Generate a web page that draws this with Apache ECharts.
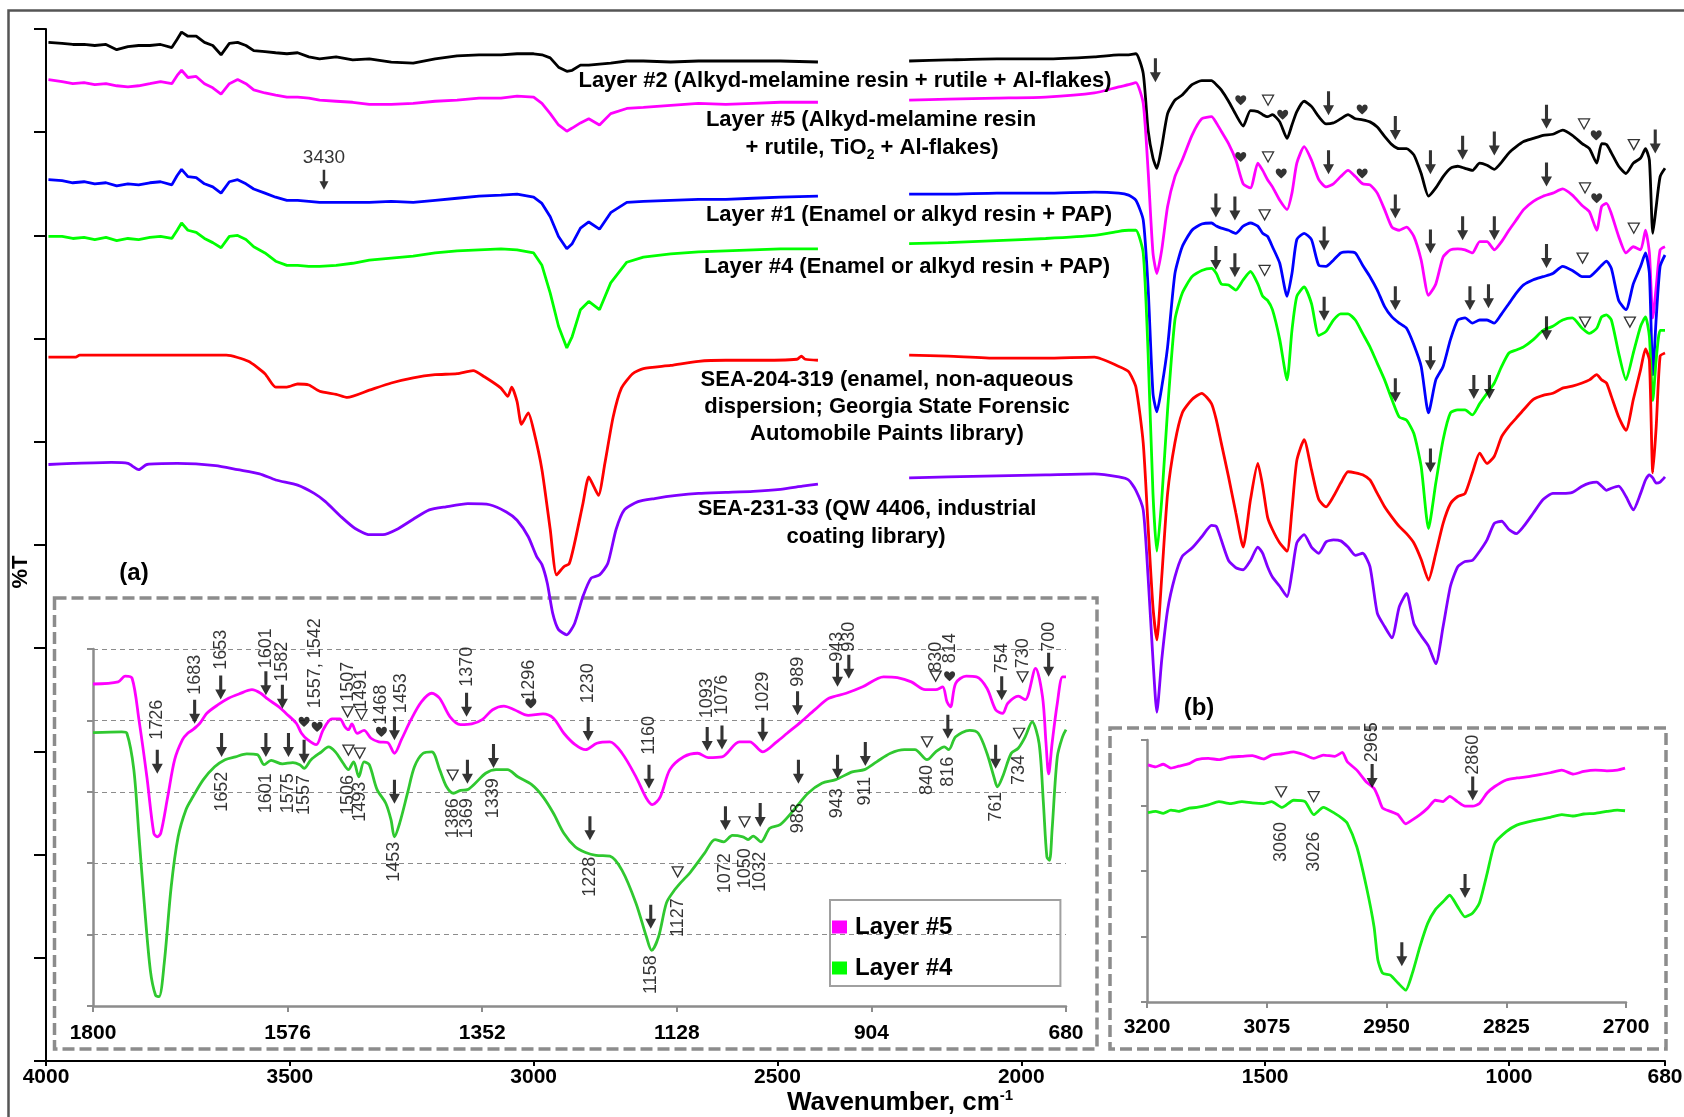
<!DOCTYPE html>
<html>
<head>
<meta charset="utf-8">
<title>ATR-FTIR spectra of automotive paint layers</title>
<script src="https://cdn.jsdelivr.net/npm/echarts@6/dist/echarts.min.js"></script>
<style>
html, body { margin: 0; padding: 0; background: #fff; }
#chart { width: 1684px; height: 1117px; }
</style>
</head>
<body>
<div id="chart"></div>
<script>
const FONT = '"Liberation Sans", Arial, Helvetica, sans-serif';

// Tick values of the survey wavenumber axis (cm-1)
const surveyTicks = [4000, 3500, 3000, 2500, 2000, 1500, 1000, 680];

// ---- Survey spectra, 4000–2417 cm-1 (common sampling grid) ----
const wnHigh = [3995, 3967, 3945, 3922, 3900, 3877, 3855, 3832, 3810, 3787, 3765, 3742, 3731, 3722, 3709, 3692, 3675, 3658, 3641, 3624, 3607, 3590, 3574, 3551, 3529, 3506, 3484, 3461, 3439, 3405, 3371, 3337, 3292, 3247, 3202, 3157, 3112, 3067, 3034, 3000, 2983, 2966, 2949, 2932, 2921, 2904, 2887, 2865, 2842, 2809, 2775, 2719, 2662, 2606, 2550, 2494, 2417];
const layer2High = [98.7, 98.6, 98.5, 98.5, 98.4, 98.5, 98.0, 98.3, 98.4, 98.4, 98.5, 98.2, 99.0, 99.7, 99.3, 99.3, 98.7, 98.4, 97.5, 98.6, 98.7, 98.4, 97.9, 97.8, 97.7, 97.6, 97.7, 97.3, 97.1, 97.3, 97.0, 97.1, 96.8, 96.7, 97.1, 97.4, 97.5, 97.5, 97.6, 97.6, 97.5, 97.2, 96.3, 95.9, 96.0, 96.5, 96.5, 96.6, 96.7, 96.9, 96.9, 96.8, 96.9, 96.9, 96.9, 96.9, 96.8];
const layer5High = [95.1, 94.9, 94.7, 94.8, 94.6, 94.7, 94.5, 94.4, 94.5, 94.7, 94.9, 94.7, 95.5, 96.0, 95.3, 95.4, 94.7, 94.3, 93.7, 94.7, 95.1, 94.7, 94.1, 93.8, 93.6, 93.4, 93.4, 93.3, 93.1, 93.0, 92.9, 92.7, 92.7, 92.8, 93.0, 93.1, 93.3, 93.3, 93.5, 93.4, 92.8, 91.8, 90.7, 90.1, 90.4, 90.9, 91.3, 90.7, 91.8, 92.3, 92.4, 92.6, 92.8, 92.7, 92.8, 92.9, 92.9];
const layer1High = [85.4, 85.3, 85.1, 85.2, 85.0, 85.1, 84.8, 85.0, 84.9, 85.1, 85.2, 84.9, 85.8, 86.4, 85.7, 85.6, 85.0, 84.7, 84.1, 85.2, 85.4, 85.0, 84.5, 84.1, 83.7, 83.4, 83.4, 83.3, 83.2, 83.2, 83.2, 83.2, 83.3, 83.2, 83.4, 83.6, 83.8, 83.9, 84.0, 83.7, 83.1, 81.8, 79.9, 78.7, 79.2, 80.7, 81.3, 80.6, 82.2, 83.2, 83.3, 83.4, 83.5, 83.5, 83.6, 83.7, 83.8];
const layer4High = [79.9, 79.9, 79.7, 79.8, 79.6, 79.8, 79.5, 79.7, 79.6, 79.8, 79.9, 79.7, 80.5, 81.2, 80.5, 80.3, 79.7, 79.3, 78.8, 79.9, 80.0, 79.6, 78.9, 78.3, 77.5, 77.1, 77.1, 77.0, 77.0, 77.1, 77.3, 77.6, 77.8, 78.0, 78.3, 78.5, 78.6, 78.7, 78.6, 78.3, 77.1, 74.4, 71.2, 69.1, 70.2, 72.8, 73.6, 72.8, 75.4, 77.4, 77.9, 78.2, 78.4, 78.5, 78.6, 78.7, 78.7];
// library reference spectra, [wavenumber, %T]
const sea204High = [[3995, 68.2], [3939, 68.2], [3931, 68.4], [3630, 68.4], [3585, 67.8], [3551, 66.6], [3529, 65.3], [3506, 65.3], [3484, 65.6], [3461, 65.5], [3439, 64.9], [3405, 64.6], [3382, 64.3], [3337, 65.0], [3292, 65.7], [3247, 66.2], [3202, 66.5], [3157, 66.6], [3124, 66.9], [3101, 66.3], [3067, 65.2], [3053, 64.4], [3045, 65.3], [3034, 63.9], [3025, 61.7], [3011, 62.8], [3000, 61.1], [2983, 57.3], [2966, 51.5], [2953, 47.1], [2938, 47.9], [2927, 48.2], [2916, 50.2], [2899, 54.0], [2887, 56.6], [2876, 55.6], [2867, 54.8], [2854, 57.9], [2837, 62.4], [2820, 65.2], [2797, 66.6], [2775, 67.1], [2719, 67.4], [2662, 67.8], [2606, 67.9], [2550, 67.9], [2460, 68.0], [2451, 68.3], [2443, 68.0], [2417, 67.9]];
const sea231High = [[3995, 57.8], [3945, 57.9], [3866, 58.0], [3832, 57.9], [3810, 57.3], [3793, 57.8], [3731, 57.9], [3652, 57.7], [3607, 57.3], [3562, 56.9], [3529, 56.3], [3484, 55.8], [3450, 55.0], [3427, 54.2], [3394, 52.7], [3366, 51.6], [3337, 51.0], [3309, 51.0], [3281, 51.5], [3247, 52.5], [3214, 53.4], [3180, 53.7], [3135, 54.0], [3090, 53.9], [3056, 53.2], [3034, 52.4], [3011, 50.8], [2994, 48.9], [2983, 48.1], [2972, 46.3], [2961, 43.4], [2949, 41.8], [2932, 41.3], [2916, 42.4], [2899, 45.0], [2882, 46.8], [2865, 47.1], [2848, 48.2], [2831, 51.5], [2814, 53.4], [2786, 54.2], [2752, 54.5], [2707, 54.8], [2662, 55.0], [2606, 55.1], [2550, 55.2], [2494, 55.4], [2449, 55.7], [2417, 55.9]];

// ---- Survey spectra, 2230–680 cm-1 (common sampling grid) ----
const wnLow = [2230, 2150, 2050, 1950, 1850, 1800, 1780, 1765, 1750, 1740, 1730, 1722, 1712, 1700, 1685, 1670, 1650, 1630, 1610, 1600, 1590, 1575, 1560, 1545, 1530, 1515, 1505, 1495, 1485, 1470, 1455, 1445, 1435, 1420, 1405, 1390, 1375, 1360, 1345, 1330, 1315, 1300, 1285, 1270, 1255, 1240, 1225, 1210, 1195, 1180, 1165, 1150, 1135, 1120, 1105, 1090, 1075, 1060, 1045, 1030, 1015, 1000, 985, 970, 950, 930, 910, 890, 870, 850, 835, 820, 810, 800, 790, 775, 760, 745, 730, 720, 712, 705, 698, 690, 680];
const layer2Low = [96.9, 97.0, 97.1, 97.1, 97.3, 97.5, 97.5, 97.6, 95.7, 90.2, 87.5, 86.5, 88.6, 91.8, 93.1, 93.6, 94.6, 95.0, 95.0, 94.6, 94.1, 93.0, 91.7, 90.6, 92.1, 92.0, 91.7, 91.5, 91.7, 91.0, 89.4, 90.7, 92.0, 93.0, 92.5, 91.5, 90.8, 90.9, 91.3, 91.7, 91.3, 91.2, 91.0, 90.5, 89.6, 88.8, 88.4, 88.4, 87.8, 86.0, 83.8, 84.6, 85.7, 86.5, 86.7, 86.5, 86.3, 87.0, 86.8, 86.4, 87.1, 88.0, 88.6, 89.1, 89.4, 89.7, 89.8, 90.2, 89.7, 88.9, 88.4, 87.0, 88.9, 88.8, 88.0, 86.7, 86.0, 87.0, 87.5, 88.4, 87.3, 80.2, 82.8, 85.7, 86.5];
const layer5Low = [93.1, 93.2, 93.3, 93.4, 93.8, 94.4, 94.6, 94.8, 92.8, 86.3, 78.3, 76.3, 78.6, 82.8, 85.7, 87.3, 89.7, 91.3, 91.5, 90.9, 90.1, 88.9, 87.3, 85.0, 84.6, 87.0, 86.3, 85.4, 84.7, 83.4, 82.5, 84.1, 87.0, 88.6, 87.3, 85.4, 84.7, 85.0, 85.7, 86.3, 85.7, 85.0, 84.9, 84.1, 82.5, 80.8, 80.5, 80.8, 79.9, 77.6, 74.2, 75.3, 77.9, 78.6, 78.7, 78.6, 78.3, 79.4, 79.4, 78.6, 79.4, 80.5, 81.5, 82.5, 83.3, 83.8, 84.1, 84.5, 83.9, 82.9, 82.3, 80.5, 82.8, 83.1, 82.1, 79.9, 78.3, 78.9, 78.6, 80.5, 78.3, 72.0, 75.0, 78.6, 78.9];
const layer1Low = [84.0, 84.0, 84.1, 84.1, 84.2, 84.1, 83.9, 83.4, 81.5, 75.0, 64.7, 62.9, 65.3, 69.2, 76.3, 78.9, 80.5, 81.1, 81.2, 80.9, 80.7, 80.5, 80.2, 80.9, 81.2, 80.9, 80.2, 79.9, 78.9, 77.3, 74.1, 76.3, 79.6, 80.2, 79.6, 77.1, 77.0, 77.6, 78.3, 78.4, 78.3, 77.1, 76.0, 74.7, 73.1, 72.1, 71.5, 71.0, 69.4, 67.3, 62.8, 66.0, 67.3, 69.9, 71.8, 72.0, 71.5, 71.8, 71.8, 71.5, 72.4, 73.4, 74.4, 75.2, 75.7, 76.0, 76.3, 77.0, 76.6, 76.0, 76.0, 76.6, 77.1, 77.5, 76.8, 73.7, 72.8, 75.3, 77.0, 78.3, 76.3, 66.5, 72.0, 77.0, 78.1];
const layer4Low = [79.2, 79.3, 79.5, 79.7, 80.0, 80.4, 80.5, 80.5, 78.3, 68.6, 55.0, 49.4, 54.4, 63.1, 71.8, 74.4, 76.0, 76.6, 76.8, 76.3, 75.3, 75.2, 74.7, 75.7, 76.5, 75.3, 74.1, 73.7, 72.8, 69.9, 66.0, 70.8, 74.1, 75.0, 73.4, 70.3, 70.7, 71.8, 72.4, 72.4, 71.8, 70.5, 69.2, 67.6, 66.0, 64.1, 62.4, 62.1, 60.8, 57.6, 51.6, 56.0, 60.2, 62.8, 63.1, 63.1, 62.6, 63.7, 64.7, 65.7, 67.3, 68.6, 68.9, 69.2, 69.9, 70.8, 71.2, 71.8, 72.0, 71.0, 70.5, 71.0, 72.1, 72.3, 71.8, 68.6, 66.0, 68.6, 71.2, 72.1, 70.2, 64.0, 68.0, 70.8, 70.8];
const sea204Low = [68.4, 68.3, 68.1, 68.1, 68.2, 67.3, 66.8, 65.3, 59.9, 51.8, 44.0, 40.8, 46.9, 55.0, 59.9, 62.8, 64.1, 64.7, 63.7, 62.1, 59.9, 56.6, 53.1, 49.8, 54.4, 57.9, 55.7, 52.7, 51.5, 50.2, 49.4, 53.4, 58.2, 60.2, 57.3, 54.4, 53.7, 54.7, 56.0, 57.1, 57.0, 56.8, 56.3, 55.0, 53.7, 52.7, 51.8, 51.1, 50.2, 48.6, 46.6, 49.2, 52.1, 54.0, 54.7, 55.0, 57.0, 58.9, 57.9, 58.6, 60.5, 61.5, 62.3, 63.1, 64.1, 64.5, 64.7, 65.2, 65.4, 65.7, 66.0, 66.5, 66.0, 65.7, 64.4, 62.4, 61.1, 64.1, 67.0, 69.0, 67.9, 57.0, 61.5, 68.3, 68.6];
const sea231Low = [56.5, 56.6, 56.7, 56.8, 56.9, 56.6, 56.3, 55.3, 53.4, 46.9, 38.9, 33.8, 38.9, 43.7, 46.9, 48.9, 49.7, 50.8, 51.9, 51.8, 50.5, 48.5, 47.8, 47.6, 48.5, 49.8, 49.2, 47.9, 46.9, 46.0, 45.0, 47.3, 50.2, 51.0, 49.8, 49.2, 50.3, 50.5, 50.4, 49.8, 49.0, 49.2, 47.9, 43.4, 42.1, 41.0, 44.0, 45.3, 42.4, 41.2, 40.2, 38.5, 42.1, 46.0, 47.9, 48.4, 48.5, 49.4, 50.5, 52.1, 52.3, 51.5, 51.1, 51.8, 53.1, 54.4, 55.0, 55.0, 55.1, 55.7, 56.0, 56.1, 55.7, 55.3, 55.5, 55.7, 54.7, 53.4, 55.0, 56.3, 56.8, 56.5, 56.0, 56.1, 56.6];

// ---- Inset (a): Layer #5 and Layer #4, 1800–680 cm-1, [wavenumber, %T (arb.)] ----
const insetA5 = [[1800, 4.51], [1771, 4.54], [1763, 4.62], [1755, 4.59], [1747, 4.00], [1738, 3.21], [1730, 2.42], [1726, 2.37], [1722, 2.42], [1714, 2.93], [1706, 3.45], [1697, 3.73], [1691, 3.82], [1685, 3.87], [1677, 3.96], [1669, 4.10], [1656, 4.22], [1644, 4.31], [1632, 4.37], [1617, 4.43], [1607, 4.38], [1599, 4.30], [1586, 4.19], [1578, 4.10], [1566, 3.96], [1560, 3.82], [1553, 3.73], [1543, 3.66], [1535, 3.87], [1525, 4.02], [1516, 4.02], [1510, 3.91], [1506, 3.87], [1502, 3.95], [1496, 3.82], [1488, 3.86], [1480, 3.75], [1471, 3.70], [1461, 3.69], [1453, 3.54], [1445, 3.73], [1434, 4.01], [1422, 4.26], [1410, 4.38], [1401, 4.31], [1389, 4.05], [1377, 3.94], [1364, 3.95], [1352, 4.01], [1340, 4.15], [1327, 4.20], [1315, 4.15], [1299, 4.07], [1282, 4.09], [1270, 4.03], [1258, 3.82], [1245, 3.66], [1233, 3.59], [1220, 3.68], [1205, 3.70], [1191, 3.54], [1175, 3.21], [1163, 2.91], [1156, 2.82], [1147, 2.93], [1136, 3.31], [1120, 3.49], [1104, 3.54], [1092, 3.48], [1076, 3.49], [1056, 3.70], [1044, 3.70], [1029, 3.56], [1013, 3.70], [1001, 3.82], [985, 3.98], [969, 4.15], [953, 4.31], [933, 4.38], [914, 4.47], [890, 4.61], [874, 4.60], [858, 4.54], [842, 4.43], [830, 4.43], [822, 4.47], [817, 4.26], [813, 4.19], [807, 4.52], [795, 4.62], [783, 4.61], [771, 4.45], [761, 4.15], [753, 4.10], [747, 4.24], [735, 4.34], [727, 4.29], [715, 4.73], [707, 4.33], [703, 3.68], [700, 3.25], [696, 3.68], [690, 4.24], [684, 4.61], [680, 4.61]];
const insetA4 = [[1800, 3.83], [1767, 3.84], [1761, 3.82], [1753, 3.31], [1747, 2.37], [1741, 1.44], [1734, 0.50], [1728, 0.15], [1724, 0.13], [1718, 0.60], [1710, 1.67], [1702, 2.37], [1693, 2.75], [1685, 2.93], [1673, 3.17], [1660, 3.35], [1648, 3.45], [1636, 3.49], [1623, 3.53], [1611, 3.52], [1603, 3.38], [1595, 3.44], [1582, 3.39], [1570, 3.41], [1562, 3.38], [1557, 3.33], [1549, 3.45], [1537, 3.56], [1529, 3.63], [1521, 3.56], [1512, 3.40], [1506, 3.31], [1500, 3.42], [1494, 3.21], [1488, 3.42], [1482, 3.38], [1473, 3.03], [1463, 2.84], [1457, 2.61], [1453, 2.37], [1447, 2.56], [1438, 2.98], [1430, 3.35], [1420, 3.54], [1410, 3.56], [1401, 3.31], [1393, 3.07], [1385, 2.98], [1377, 3.02], [1369, 3.03], [1360, 3.12], [1348, 3.26], [1336, 3.31], [1323, 3.31], [1311, 3.21], [1295, 3.10], [1282, 2.93], [1270, 2.70], [1258, 2.42], [1245, 2.23], [1233, 2.15], [1221, 2.11], [1205, 2.10], [1191, 1.90], [1175, 1.44], [1163, 0.97], [1157, 0.78], [1149, 0.97], [1140, 1.44], [1132, 1.60], [1124, 1.72], [1112, 1.88], [1096, 2.14], [1084, 2.33], [1074, 2.30], [1064, 2.39], [1052, 2.37], [1046, 2.33], [1040, 2.38], [1031, 2.30], [1021, 2.49], [1009, 2.54], [993, 2.75], [977, 2.98], [961, 3.12], [945, 3.17], [926, 3.28], [912, 3.31], [898, 3.42], [882, 3.54], [866, 3.59], [854, 3.59], [840, 3.45], [830, 3.56], [820, 3.63], [815, 3.59], [807, 3.77], [791, 3.86], [781, 3.82], [771, 3.54], [763, 3.21], [759, 3.07], [753, 3.21], [743, 3.54], [735, 3.61], [727, 3.77], [719, 3.98], [711, 3.68], [706, 2.84], [702, 2.09], [699, 2.04], [696, 2.47], [690, 3.49], [684, 3.77], [680, 3.87]];

// ---- Inset (b): Layer #5 and Layer #4, 3200–2700 cm-1 ----
const wnInsetB = [3199, 3191, 3183, 3175, 3167, 3156, 3148, 3136, 3125, 3113, 3101, 3090, 3078, 3070, 3059, 3047, 3035, 3026, 3016, 3004, 2996, 2991, 2981, 2971, 2963, 2959, 2954, 2946, 2938, 2930, 2923, 2915, 2907, 2899, 2891, 2884, 2876, 2868, 2860, 2853, 2845, 2837, 2825, 2814, 2802, 2790, 2779, 2767, 2755, 2744, 2732, 2720, 2709, 2701];
const insetB5 = [3.62, 3.59, 3.63, 3.57, 3.60, 3.64, 3.70, 3.72, 3.70, 3.74, 3.75, 3.76, 3.71, 3.77, 3.79, 3.82, 3.77, 3.72, 3.77, 3.75, 3.81, 3.67, 3.54, 3.36, 3.26, 3.14, 2.96, 2.91, 2.86, 2.72, 2.78, 2.86, 2.96, 3.08, 3.06, 3.14, 3.06, 2.99, 2.99, 3.03, 3.19, 3.29, 3.39, 3.42, 3.44, 3.47, 3.50, 3.54, 3.48, 3.52, 3.54, 3.53, 3.54, 3.57];
const insetB4 = [2.89, 2.91, 2.88, 2.93, 2.91, 2.96, 2.97, 3.01, 3.06, 3.03, 3.06, 3.04, 3.03, 3.06, 2.97, 3.08, 3.06, 2.86, 2.97, 2.88, 2.80, 2.73, 2.37, 1.76, 1.15, 0.64, 0.44, 0.41, 0.29, 0.18, 0.44, 0.85, 1.20, 1.41, 1.53, 1.63, 1.46, 1.30, 1.36, 1.51, 1.96, 2.42, 2.60, 2.70, 2.75, 2.79, 2.82, 2.86, 2.84, 2.87, 2.88, 2.91, 2.93, 2.92];

// ---- Band marks on the survey spectra: [wavenumber, %T, kind] ----
const surveyMarks = [
  // Layer #2
  [1725, 96.0, 'arrow'], [1550, 93.1, 'heart'], [1494, 93.1, 'tri'], [1464, 91.7, 'heart'], [1370, 92.8, 'arrow'], [1301, 92.2, 'heart'], [1233, 90.4, 'arrow'], [1161, 87.1, 'arrow'], [1095, 88.5, 'arrow'], [1030, 88.9, 'arrow'], [923, 91.5, 'arrow'], [846, 90.8, 'tri'], [821, 89.7, 'heart'], [744, 88.8, 'tri'], [700, 89.1, 'arrow'],
  // Layer #5
  [1550, 87.6, 'heart'], [1494, 87.6, 'tri'], [1467, 86.0, 'heart'], [1370, 87.1, 'arrow'], [1301, 86.0, 'heart'], [1233, 82.8, 'arrow'], [1161, 79.4, 'arrow'], [1095, 80.7, 'arrow'], [1030, 80.7, 'arrow'], [923, 85.9, 'arrow'], [844, 84.6, 'tri'], [820, 83.6, 'heart'], [744, 80.7, 'tri'],
  // Layer #1
  [1601, 82.9, 'arrow'], [1562, 82.6, 'arrow'], [1501, 82.0, 'tri'], [1379, 79.7, 'arrow'], [1233, 73.9, 'arrow'], [1161, 68.1, 'arrow'], [1080, 73.9, 'arrow'], [1042, 74.1, 'arrow'], [923, 78.0, 'arrow'], [849, 77.8, 'tri'],
  // Layer #4
  [1601, 77.8, 'arrow'], [1562, 77.1, 'arrow'], [1501, 76.6, 'tri'], [1379, 72.9, 'arrow'], [1233, 65.0, 'arrow'], [1161, 58.2, 'arrow'], [1072, 65.3, 'arrow'], [1040, 65.3, 'arrow'], [923, 71.0, 'arrow'], [844, 71.6, 'tri'], [752, 71.6, 'tri']
];
// O–H band of Layer #1: [wavenumber, %T, label]
const ohBand = [[3430, 85.4, '3430']];

// ---- Band marks and labels in inset (a) ----
// marks: [wavenumber, height, kind]; labels: [wavenumber, height where the text starts/ends, text]
const marksA5 = [[1726, 3.42, 'arrow'], [1683, 4.12, 'arrow'], [1653, 4.46, 'arrow'], [1601, 4.52, 'arrow'], [1582, 4.33, 'arrow'], [1557, 3.98, 'heart'], [1542, 3.91, 'heart'], [1507, 4.12, 'tri'], [1491, 4.08, 'tri'], [1468, 3.84, 'heart'], [1453, 3.89, 'arrow'], [1370, 4.22, 'arrow'], [1296, 4.24, 'heart'], [1230, 3.88, 'arrow'], [1160, 3.21, 'arrow'], [1093, 3.74, 'arrow'], [1076, 3.76, 'arrow'], [1029, 3.87, 'arrow'], [989, 4.24, 'arrow'], [943, 4.64, 'arrow'], [930, 4.75, 'arrow'], [830, 4.62, 'tri'], [814, 4.62, 'heart'], [754, 4.45, 'arrow'], [730, 4.61, 'tri'], [700, 4.78, 'arrow']];
const labelsA5 = [[1726, 3.73, '1726'], [1683, 4.36, '1683'], [1653, 4.71, '1653'], [1601, 4.73, '1601'], [1582, 4.54, '1582'], [1545, 4.17, '1557, 1542'], [1507, 4.26, '1507'], [1491, 4.15, '1491'], [1468, 3.94, '1468'], [1445, 4.10, '1453'], [1370, 4.47, '1370'], [1298, 4.29, '1296'], [1230, 4.24, '1230'], [1160, 3.52, '1160'], [1093, 4.03, '1093'], [1076, 4.08, '1076'], [1029, 4.12, '1029'], [989, 4.47, '989'], [943, 4.82, '943'], [930, 4.96, '930'], [830, 4.68, '830'], [814, 4.80, '814'], [754, 4.66, '754'], [730, 4.73, '730'], [700, 4.96, '700']];
const marksA4 = [[1652, 3.655, 'arrow'], [1601, 3.655, 'arrow'], [1575, 3.655, 'arrow'], [1557, 3.56, 'arrow'], [1506, 3.585, 'tri'], [1493, 3.54, 'tri'], [1453, 3.0, 'arrow'], [1386, 3.235, 'tri'], [1369, 3.28, 'arrow'], [1339, 3.50, 'arrow'], [1228, 2.49, 'arrow'], [1158, 1.25, 'arrow'], [1127, 1.88, 'tri'], [1072, 2.63, 'arrow'], [1050, 2.58, 'tri'], [1032, 2.675, 'arrow'], [988, 3.28, 'arrow'], [943, 3.35, 'arrow'], [911, 3.53, 'arrow'], [840, 3.70, 'tri'], [816, 3.91, 'arrow'], [761, 3.49, 'arrow'], [734, 3.82, 'tri']];
const labelsA4 = [[1652, 3.28, '1652'], [1601, 3.26, '1601'], [1575, 3.26, '1575'], [1557, 3.235, '1557'], [1506, 3.235, '1506'], [1493, 3.14, '1493'], [1453, 2.30, '1453'], [1386, 2.91, '1386'], [1369, 2.91, '1369'], [1339, 3.19, '1339'], [1228, 2.09, '1228'], [1158, 0.71, '1158'], [1127, 1.51, '1127'], [1072, 2.14, '1072'], [1050, 2.21, '1050'], [1032, 2.16, '1032'], [988, 2.84, '988'], [943, 3.05, '943'], [911, 3.21, '911'], [840, 3.375, '840'], [816, 3.49, '816'], [761, 3.00, '761'], [734, 3.515, '734']];

// ---- Band marks and labels in inset (b) ----
const marksB5 = [[2965, 3.45, 'arrow'], [2860, 3.26, 'arrow']];
const labelsB5 = [[2965, 3.66, '2965'], [2860, 3.47, '2860']];
const marksB4 = [[3060, 3.21, 'tri'], [3026, 3.135, 'tri'], [2934, 0.73, 'arrow'], [2868, 1.77, 'arrow']];
const labelsB4 = [[3060, 2.75, '3060'], [3026, 2.60, '3026']];

// ---------------------------------------------------------------
const zip = (xs, ys) => xs.map((x, i) => [x, ys[i]]);

const SYMBOLS = {
  arrow: 'path://M3.6,0 L6.4,0 L6.4,14 L10,14 L5,24 L0,14 L3.6,14 Z',
  heart: 'path://M5,9 C5,9 0,5.6 0,2.8 C0,1 1.2,0 2.5,0 C3.6,0 4.5,0.7 5,1.7 C5.5,0.7 6.4,0 7.5,0 C8.8,0 10,1 10,2.8 C10,5.6 5,9 5,9 Z',
  tri: 'path://M0,0 L10,0 L5,9 Z'
};
const SIZES = { arrow: [11, 24], heart: [11, 10], tri: [11, 10] };

function spectrum(name, color, data, axis, smooth, width) {
  return {
    type: 'line', name, data, xAxisIndex: axis, yAxisIndex: axis,
    symbol: 'none', showSymbol: false, smooth: smooth || false,
    lineStyle: { color, width: width || 2.8 }, itemStyle: { color },
    silent: true, z: axis === 0 ? 2 : 3, emphasis: { disabled: true }
  };
}

function markSeries(list, kind, axis) {
  return {
    type: 'scatter', xAxisIndex: axis, yAxisIndex: axis,
    data: list.filter(m => m[2] === kind).map(m => [m[0], m[1]]),
    symbol: SYMBOLS[kind], symbolSize: SIZES[kind],
    itemStyle: kind === 'tri'
      ? { color: '#ffffff', borderColor: '#000', borderWidth: 1.3 }
      : { color: '#000' },
    silent: true, z: 6, emphasis: { disabled: true }
  };
}

function labelSeries(list, axis, rising) {
  return {
    type: 'scatter', xAxisIndex: axis, yAxisIndex: axis,
    data: list.map(l => ({ value: [l[0], l[1]], name: l[2] })),
    symbol: 'circle', symbolSize: 1, itemStyle: { color: 'rgba(0,0,0,0)' },
    label: {
      show: true, position: 'inside', rotate: 90,
      align: rising ? 'left' : 'right', verticalAlign: 'middle',
      formatter: '{b}', fontFamily: FONT, fontSize: 18, color: '#000'
    },
    silent: true, z: 7, emphasis: { disabled: true }
  };
}

function allMarks(list, axis) {
  return ['arrow', 'heart', 'tri'].map(k => markSeries(list, k, axis))
    .filter(s => s.data.length);
}

function text(x, y, str, size, extra) {
  return Object.assign({
    type: 'text', x, y, silent: true, z: 5,
    style: {
      text: str, font: 'bold ' + size + 'px ' + FONT, fill: '#000',
      align: 'center', verticalAlign: 'middle',
      textAlign: 'center', textVerticalAlign: 'middle'
    }
  }, extra || {});
}

const plainNumber = v => String(v);
const grayAxis = { color: '#8c8c8c', width: 2.5 };
const tickFont = { fontFamily: FONT, fontSize: 21, fontWeight: 'bold', color: '#000', formatter: plainNumber };

const C = {
  black: '#000000', pink: '#ff00ff', blue: '#0000ff', green: '#00ff00',
  red: '#ff0000', violet: '#8000ff', insetGreen: '#30c830', insetBGreen: '#14ee14'
};

const NAME2 = 'Layer #2 (Alkyd-melamine resin + rutile + Al-flakes)';
const NAME5 = 'Layer #5 (Alkyd-melamine resin + rutile, TiO2 + Al-flakes)';
const NAME1 = 'Layer #1 (Enamel or alkyd resin + PAP)';
const NAME4 = 'Layer #4 (Enamel or alkyd resin + PAP)';
const NAME204 = 'SEA-204-319';
const NAME231 = 'SEA-231-33';

const series = [
  spectrum(NAME2, C.black, zip(wnHigh, layer2High), 0),
  spectrum(NAME5, C.pink, zip(wnHigh, layer5High), 0),
  spectrum(NAME1, C.blue, zip(wnHigh, layer1High), 0),
  spectrum(NAME4, C.green, zip(wnHigh, layer4High), 0),
  spectrum(NAME204, C.red, sea204High, 0, 0.2),
  spectrum(NAME231, C.violet, sea231High, 0, 0.2),
  spectrum(NAME2, C.black, zip(wnLow, layer2Low), 0, 0.2),
  spectrum(NAME5, C.pink, zip(wnLow, layer5Low), 0, 0.2),
  spectrum(NAME1, C.blue, zip(wnLow, layer1Low), 0, 0.2),
  spectrum(NAME4, C.green, zip(wnLow, layer4Low), 0, 0.2),
  spectrum(NAME204, C.red, zip(wnLow, sea204Low), 0, 0.2),
  spectrum(NAME231, C.violet, zip(wnLow, sea231Low), 0, 0.2),
  spectrum('Layer #5', C.pink, insetA5, 1, 0.3),
  spectrum('Layer #4', C.insetGreen, insetA4, 1, 0.3),
  spectrum('Layer #5 C–H', C.pink, zip(wnInsetB, insetB5), 2, 0.2),
  spectrum('Layer #4 C–H', C.insetBGreen, zip(wnInsetB, insetB4), 2, 0.2),
  ...allMarks(surveyMarks, 0),
  {
    type: 'scatter', xAxisIndex: 0, yAxisIndex: 0,
    data: ohBand.map(b => ({ value: [b[0], b[1]], name: b[2] })),
    symbol: SYMBOLS.arrow, symbolSize: [9, 20], itemStyle: { color: '#000' },
    label: { show: true, position: 'top', distance: 2, formatter: '{b}', fontFamily: FONT, fontSize: 19, color: '#000' },
    silent: true, z: 6
  },
  ...allMarks(marksA5, 1), ...allMarks(marksA4, 1),
  labelSeries(labelsA5, 1, true), labelSeries(labelsA4, 1, false),
  ...allMarks(marksB5, 2), ...allMarks(marksB4, 2),
  labelSeries(labelsB5, 2, true), labelSeries(labelsB4, 2, false)
];

const option = {
  animation: false,
  backgroundColor: '#ffffff',
  grid: [
    { left: 46, top: 29, width: 1619, height: 1032, containLabel: false, outerBoundsMode: 'none' },
    { left: 93, top: 649, width: 973, height: 357, containLabel: false, outerBoundsMode: 'none' },
    { left: 1147, top: 740, width: 479, height: 262, containLabel: false, outerBoundsMode: 'none' }
  ],
  xAxis: [
    {
      gridIndex: 0, type: 'value', min: 680, max: 4000, inverse: true,
      axisLine: { show: true, onZero: false, lineStyle: { color: '#000', width: 2 } },
      axisTick: { show: true, length: 5, customValues: surveyTicks, lineStyle: { color: '#000', width: 2 } },
      axisLabel: Object.assign({ show: true, margin: 6, customValues: surveyTicks }, tickFont),
      splitLine: { show: false }
    },
    {
      gridIndex: 1, type: 'value', min: 680, max: 1800, interval: 224, inverse: true,
      axisLine: { show: true, onZero: false, lineStyle: grayAxis },
      axisTick: { show: true, length: 6, lineStyle: { color: '#8c8c8c', width: 2 } },
      axisLabel: Object.assign({ show: true, margin: 17, showMinLabel: true, showMaxLabel: true }, tickFont),
      splitLine: { show: false }
    },
    {
      gridIndex: 2, type: 'value', min: 2700, max: 3200, interval: 125, inverse: true,
      axisLine: { show: true, onZero: false, lineStyle: grayAxis },
      axisTick: { show: true, length: 6, lineStyle: { color: '#8c8c8c', width: 2 } },
      axisLabel: Object.assign({ show: true, margin: 15, showMinLabel: true, showMaxLabel: true }, tickFont),
      splitLine: { show: false }
    }
  ],
  yAxis: [
    {
      gridIndex: 0, type: 'value', min: 0, max: 100, interval: 10,
      axisLine: { show: true, onZero: false, lineStyle: { color: '#000', width: 2 } },
      axisTick: { show: true, length: 12, lineStyle: { color: '#000', width: 2 } },
      axisLabel: { show: false }, splitLine: { show: false }
    },
    {
      gridIndex: 1, type: 'value', min: 0, max: 5, interval: 1,
      axisLine: { show: true, onZero: false, lineStyle: grayAxis },
      axisTick: { show: true, length: 6, lineStyle: { color: '#8c8c8c', width: 2 } },
      axisLabel: { show: false },
      splitLine: { show: true, lineStyle: { color: '#8c8c8c', width: 1.2, type: [5, 4] } }
    },
    {
      gridIndex: 2, type: 'value', min: 0, max: 4, interval: 1,
      axisLine: { show: true, onZero: false, lineStyle: grayAxis },
      axisTick: { show: true, length: 6, lineStyle: { color: '#8c8c8c', width: 2 } },
      axisLabel: { show: false }, splitLine: { show: false }
    }
  ],
  legend: {
    show: true, orient: 'vertical', left: 830, top: 900, z: 10,
    data: [
      { name: 'Layer #5', itemStyle: { color: '#ff00ff' } },
      { name: 'Layer #4', itemStyle: { color: '#00ff00' } }
    ],
    icon: 'rect', itemWidth: 15, itemHeight: 13, itemGap: 17,
    textStyle: { fontFamily: FONT, fontSize: 24, fontWeight: 'bold', color: '#000', padding: [0, 0, 0, 3] },
    padding: [15, 108, 6, 2], borderColor: '#a0a0a0', borderWidth: 2,
    backgroundColor: 'rgba(255,255,255,0)', selectedMode: false
  },
  graphic: [
    // chart-area frame and the two dashed inset frames
    { type: 'rect', silent: true, z: 0, shape: { x: 8.5, y: 10.5, width: 1700, height: 1200 }, style: { fill: 'none', stroke: '#555', lineWidth: 2.5 } },
    { type: 'rect', silent: true, z: 0, shape: { x: 54.5, y: 598, width: 1042.5, height: 451 }, style: { fill: 'none', stroke: '#8c8c8c', lineWidth: 3.5, lineDash: [12, 5] } },
    { type: 'rect', silent: true, z: 0, shape: { x: 1110, y: 728, width: 556, height: 321 }, style: { fill: 'none', stroke: '#8c8c8c', lineWidth: 3.5, lineDash: [12, 5] } },
    // axis titles
    text(21, 572, '%T', 22, { rotation: Math.PI / 2 }),
    {
      type: 'text', x: 900, y: 1103, silent: true, z: 5,
      style: {
        text: '{a|Wavenumber, cm}{b|-1}', align: 'center', verticalAlign: 'middle',
        textAlign: 'center', textVerticalAlign: 'middle', fill: '#000',
        rich: {
          a: { fontFamily: FONT, fontSize: 26, fontWeight: 'bold', fill: '#000', color: '#000', lineHeight: 30 },
          b: { fontFamily: FONT, fontSize: 15, fontWeight: 'bold', fill: '#000', color: '#000', lineHeight: 30, verticalAlign: 'top' }
        }
      }
    },
    // spectrum captions
    text(845, 81, 'Layer #2 (Alkyd-melamine resin + rutile + Al-flakes)', 22),
    text(871, 120, 'Layer #5 (Alkyd-melamine resin', 22),
    {
      type: 'text', x: 872, y: 148, silent: true, z: 5,
      style: {
        text: '{t|+ rutile, TiO}{s|2}{t| + Al-flakes)}', align: 'center', verticalAlign: 'middle',
        textAlign: 'center', textVerticalAlign: 'middle', fill: '#000',
        rich: {
          t: { fontFamily: FONT, fontSize: 22, fontWeight: 'bold', fill: '#000', color: '#000', lineHeight: 28 },
          s: { fontFamily: FONT, fontSize: 14, fontWeight: 'bold', fill: '#000', color: '#000', lineHeight: 28, verticalAlign: 'bottom' }
        }
      }
    },
    text(909, 215, 'Layer #1 (Enamel or alkyd resin + PAP)', 22),
    text(907, 267, 'Layer #4 (Enamel or alkyd resin + PAP)', 22),
    text(887, 380, 'SEA-204-319 (enamel, non-aqueous', 22),
    text(887, 407, 'dispersion; Georgia State Forensic', 22),
    text(887, 434, 'Automobile Paints library)', 22),
    text(867, 509, 'SEA-231-33 (QW 4406, industrial', 22),
    text(866, 537, 'coating library)', 22),
    // inset tags
    text(134, 573, '(a)', 24),
    text(1199, 708, '(b)', 24)
  ],
  series
};

const chart = echarts.init(document.getElementById('chart'), null, { renderer: 'canvas' });
chart.setOption(option);
</script>
</body>
</html>
